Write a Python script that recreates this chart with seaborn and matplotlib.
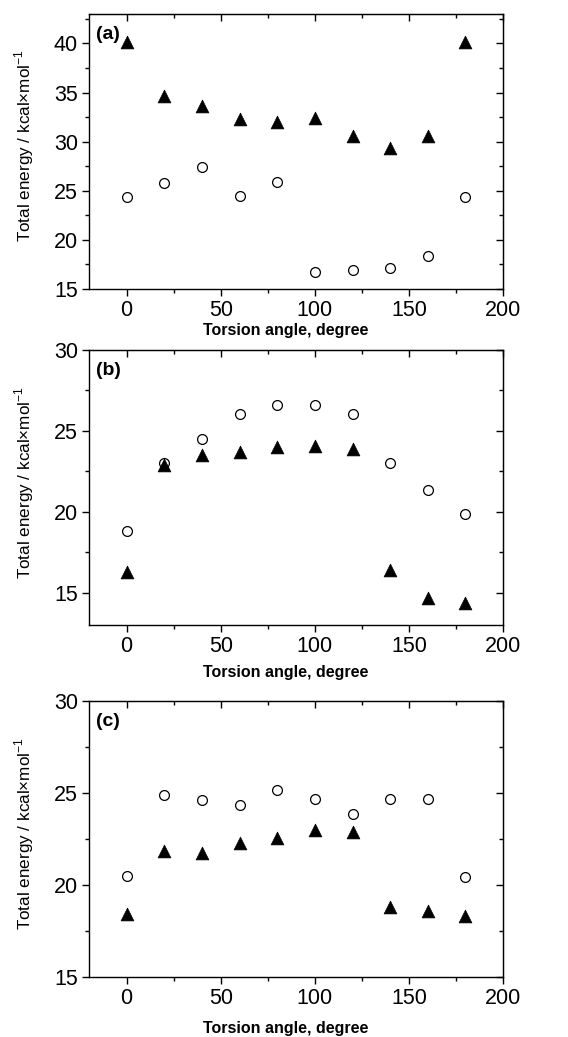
import matplotlib
matplotlib.use('Agg')
import matplotlib.pyplot as plt
import seaborn as sns
import pandas as pd
from matplotlib.ticker import MultipleLocator

# torsion angles shared by all three panels
angles = [0, 20, 40, 60, 80, 100, 120, 140, 160, 180]

# panel (a)
a_triangles = [40.1, 34.7, 33.6, 32.3, 32.0, 32.4, 30.6, 29.4, 30.6, 40.1]
a_circles = [24.35, 25.77, 27.47, 24.52, 25.87, 16.73, 16.96, 17.13, 18.32, 24.38]

# panel (b)
b_triangles = [16.3, 22.9, 23.5, 23.7, 24.0, 24.05, 23.9, 16.4, 14.7, 14.4]
b_circles = [18.85, 23.0, 24.48, 26.06, 26.62, 26.62, 26.04, 23.0, 21.37, 19.9]

# panel (c)
c_triangles = [18.44, 21.88, 21.73, 22.27, 22.56, 22.98, 22.87, 18.82, 18.6, 18.3]
c_circles = [20.48, 24.9, 24.65, 24.36, 25.15, 24.7, 23.88, 24.7, 24.7, 20.45]

panel_labels = ['(a)', '(b)', '(c)']
y_limits = [(15, 43), (13, 30), (15, 30)]
y_ticks = [[15, 20, 25, 30, 35, 40], [15, 20, 25, 30], [15, 20, 25, 30]]

sns.set_style('white')
plt.rcParams['font.family'] = ['Liberation Sans', 'DejaVu Sans']
plt.rcParams['text.color'] = 'black'
plt.rcParams['axes.labelcolor'] = 'black'
plt.rcParams['xtick.color'] = 'black'
plt.rcParams['ytick.color'] = 'black'

fig = plt.figure(figsize=(5.68, 10.37), dpi=100)
positions = [
    [0.1567, 0.7213, 0.729, 0.2652],
    [0.1567, 0.3970, 0.729, 0.2655],
    [0.1567, 0.0576, 0.729, 0.2664],
]
xlabel_y = [-0.125, -0.145, -0.16]
series = [(a_triangles, a_circles), (b_triangles, b_circles), (c_triangles, c_circles)]

for i, (tri, circ) in enumerate(series):
    ax = fig.add_axes(positions[i])
    df = pd.DataFrame({'angle': angles, 'tri': tri, 'circ': circ})
    sns.scatterplot(data=df, x='angle', y='circ', ax=ax, marker='o', s=50,
                    facecolor='white', edgecolor='black', linewidth=0.9, zorder=3)
    sns.scatterplot(data=df, x='angle', y='tri', ax=ax, marker='^', s=85,
                    color='black', edgecolor='black', linewidth=0.5, zorder=4)

    ax.set_xlim(-20, 200)
    ax.set_ylim(*y_limits[i])
    ax.set_yticks(y_ticks[i])
    ax.set_xticks([0, 50, 100, 150, 200])
    ax.xaxis.set_minor_locator(MultipleLocator(25))
    ax.yaxis.set_minor_locator(MultipleLocator(2.5))

    for side in ['left', 'right', 'top', 'bottom']:
        ax.spines[side].set_visible(True)
        ax.spines[side].set_color('black')
        ax.spines[side].set_linewidth(1.0)

    ax.tick_params(axis='both', which='both', left=True, bottom=True,
                   right=False, top=False, direction='out', color='black')
    ax.tick_params(which='major', length=5, width=1.0, labelsize=15.5, pad=3)
    ax.tick_params(which='minor', length=3, width=1.0)

    # inward ticks on the top and right edges
    ax2 = ax.secondary_xaxis('top')
    ax2.set_xticks([0, 50, 100, 150, 200])
    ax2.xaxis.set_minor_locator(MultipleLocator(25))
    ax2.tick_params(which='both', direction='in', labeltop=False)
    ax2.tick_params(which='major', length=5, width=1.0)
    ax2.tick_params(which='minor', length=3, width=1.0)
    ax3 = ax.secondary_yaxis('right')
    ax3.set_yticks(y_ticks[i])
    ax3.yaxis.set_minor_locator(MultipleLocator(2.5))
    ax3.tick_params(which='both', direction='in', labelright=False)
    ax3.tick_params(which='major', length=5, width=1.0)
    ax3.tick_params(which='minor', length=3, width=1.0)

    ax.set_xlabel('Torsion angle, degree', fontsize=11.5, fontweight='bold')
    ax.xaxis.set_label_coords(0.476, xlabel_y[i])
    ax.set_ylabel('Total energy / kcal×mol$^{\\mathregular{-1}}$', fontsize=12.3)
    ax.yaxis.set_label_coords(-0.128, 0.52)
    ax.text(0.018, 0.955, panel_labels[i], transform=ax.transAxes, fontsize=14,
            fontweight='bold', va='top', ha='left')

fig.savefig('out.png', dpi=100)
